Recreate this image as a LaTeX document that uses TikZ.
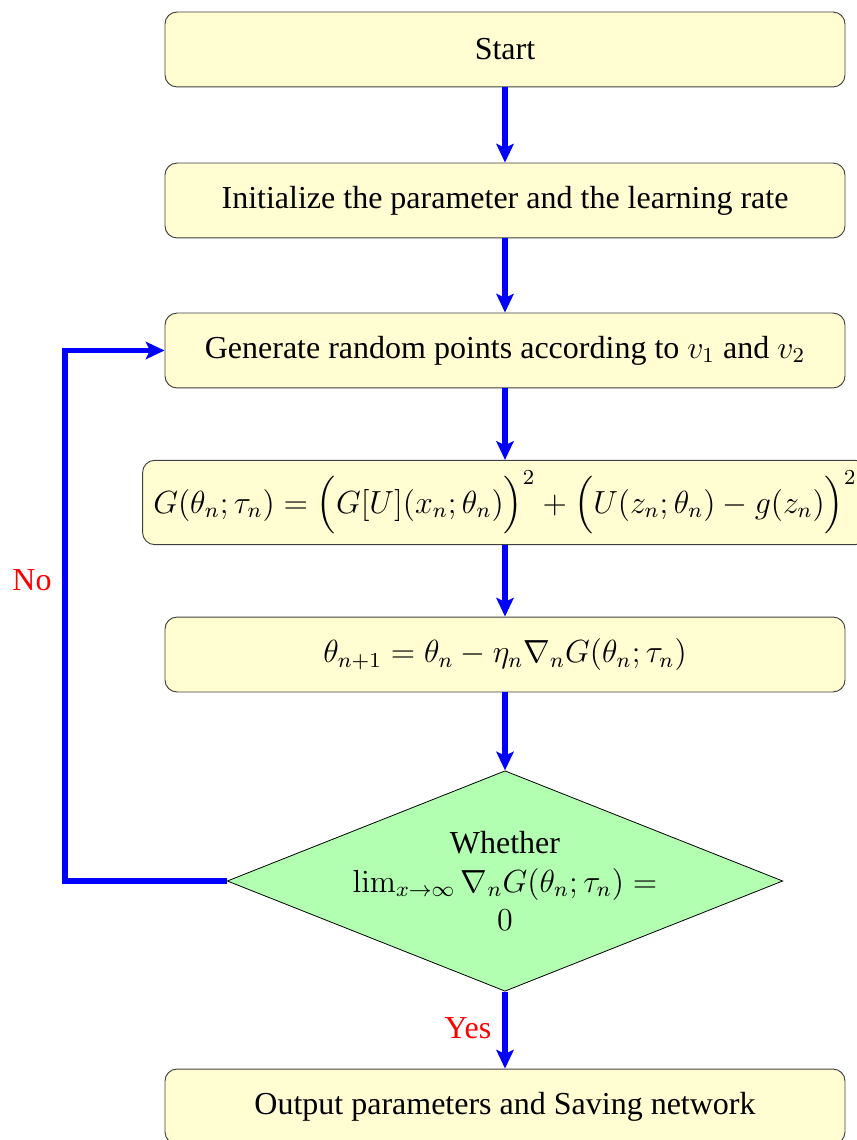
\documentclass[tikz,border=0pt]{standalone}
\usepackage{amsmath}
\usepackage{amssymb}
\usepackage[no-math]{fontspec}
\setmainfont{Liberation Serif}
\usetikzlibrary{shapes.geometric,arrows.meta}

\tikzset{
  stepbox/.style={draw=black!75, fill=yellow!18, rounded corners=4.5pt, minimum width=255pt, minimum height=28.1pt, inner sep=3pt, line width=0.35pt},
  checkbox/.style={diamond, draw=black, fill=green!30, aspect=2.52, minimum width=206.25pt, minimum height=81.75pt, inner sep=0pt, align=center, line width=0.3pt},
  flowline/.style={draw=blue, line width=1.9pt, -{Stealth[length=7pt,width=6.5pt,inset=1.5pt]}},
  answer/.style={text=red, inner sep=0.5pt}
}

\begin{document}
\begin{tikzpicture}[x=0.375pt,y=0.375pt,yscale=-1,xscale=1,font=\fontsize{12}{14.5}\selectfont]
%set diagram size to the reference page
\useasboundingbox (0,0) rectangle (857,1140);

%Shape: Rounded Rectangle
\node [stepbox] (start) at (505,49.5) {Start};
%Shape: Rounded Rectangle
\node [stepbox] (init) at (505,200.5) {Initialize the parameter and the learning rate};
%Shape: Rounded Rectangle
\node [stepbox] (gen) at (505,350.5) {Generate random points according to $v_1$ and $v_2$};
%Shape: Rounded Rectangle
\node [stepbox, inner sep=4pt] (loss) at (505,502.5) {$G(\theta_n;\tau_n)=\Big(G[U](x_n;\theta_n)\Big)^2+\Big(U(z_n;\theta_n)-g(z_n)\Big)^2$};
%Shape: Rounded Rectangle
\node [stepbox] (update) at (505,654.5) {$\theta_{n+1}=\theta_n-\eta_n\nabla_n G(\theta_n;\tau_n)$};
%Shape: Diamond
\node [checkbox] (check) at (505,881) {Whether\\ $\lim_{x\rightarrow\infty}\nabla_n G(\theta_n;\tau_n)=$\\ $0$};
%Shape: Rounded Rectangle
\node [stepbox] (output) at (505,1106.5) {Output parameters and Saving network};

%Straight Lines
\draw [flowline] (start) -- (init);
\draw [flowline] (init) -- (gen);
\draw [flowline] (gen) -- (loss);
\draw [flowline] (loss) -- (update);
\draw [flowline] (update) -- (check);
\draw [flowline] (check) -- (output);
%Loop back
\coordinate (turn) at (65,881);
\draw [flowline] (check.west) -- (turn) |- (gen.west);

% Text Node
\node [answer] (no) at (32,580) {No};
% Text Node
\node [answer] (yes) at (468,1028) {Yes};

\end{tikzpicture}
\end{document}
